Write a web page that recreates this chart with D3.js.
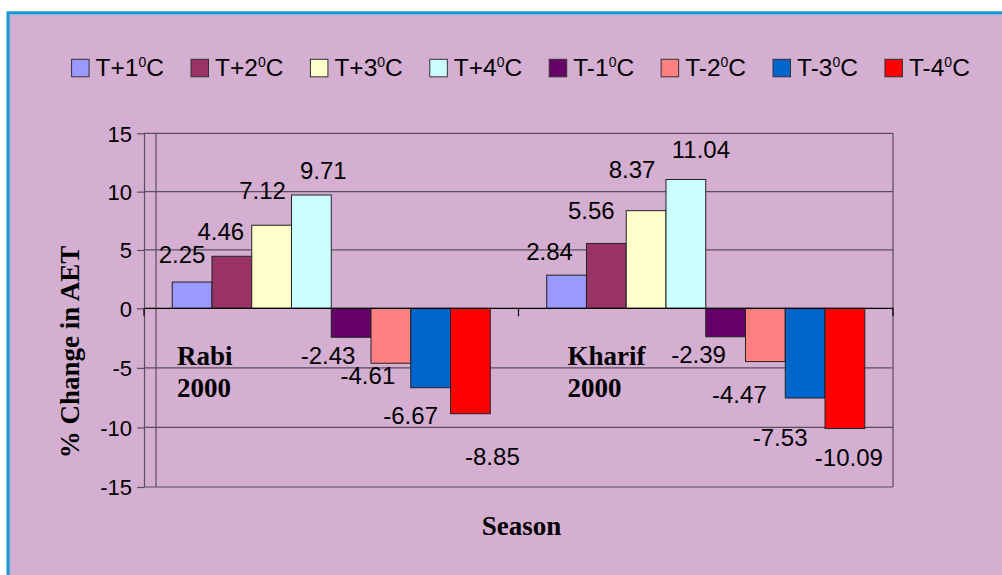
<!DOCTYPE html>
<html>
<head>
<meta charset="utf-8">
<script src="https://cdn.jsdelivr.net/npm/d3@7"></script>
<style>
  html, body { margin: 0; padding: 0; background: #ffffff; }
  svg { display: block; }
</style>
</head>
<body>
<svg id="chart" width="1002" height="575"></svg>
<script>
// Seasons on the category axis
const categories = ["Rabi", "Kharif"];
// Temperature scenarios (legend order)
const seriesNames = ["T+1", "T+2", "T+3", "T+4", "T-1", "T-2", "T-3", "T-4"];
const seriesColors = ["#9999FF", "#993366", "#FFFFCC", "#CCFFFF", "#660066", "#FF8080", "#0066CC", "#FF0000"];
// % change in AET per scenario
const rabiValues = [2.25, 4.46, 7.12, 9.71, -2.43, -4.61, -6.67, -8.85];
const kharifValues = [2.84, 5.56, 8.37, 11.04, -2.39, -4.47, -7.53, -10.09];
const yTicks = [-15, -10, -5, 0, 5, 10, 15];
const seasonNotes = [["Rabi", "2000"], ["Kharif", "2000"]];

const valuesBySeason = [rabiValues, kharifValues];

// hand-placed data label nudges (dx, dy from the bar end)
const labelNudge = [
  [[-10, -28], [-11, -25], [-9, -35], [12, -25], [-23, 18], [-23, 12], [-20, 28], [22, 43]],
  [[-17, -24], [-15, -33], [-14, -41], [15, -30], [-27, 18], [-26, 33], [-25, 39], [4, 29]]
];
const noteOffset = [33, 49];

const svg = d3.select("#chart");
const W = 1002, H = 575;

// chart frame
svg.append("rect")
  .attr("x", 8).attr("y", 12.8).attr("width", W + 20).attr("height", H + 20)
  .attr("fill", "#D5AFD1").attr("stroke", "#1196D8").attr("stroke-width", 3);
svg.append("line")
  .attr("x1", 9.5).attr("x2", W).attr("y1", 14.8).attr("y2", 14.8)
  .attr("stroke", "#93B9DD").attr("stroke-width", 1);
svg.append("line")
  .attr("x1", 10.2).attr("x2", 10.2).attr("y1", 14.3).attr("y2", H)
  .attr("stroke", "#93B9DD").attr("stroke-width", 1);

const plotL = 144, plotR = 893, plotT = 133.3, plotB = 487;

const x0 = d3.scaleBand().domain(categories).range([plotL, plotR]).padding(0);
const x1 = d3.scaleBand().domain(d3.range(seriesNames.length))
  .range([0, x0.bandwidth()]).paddingInner(0).paddingOuter(0.71);
const y = d3.scaleLinear().domain([-15, 0, 15]).range([plotB, 308.3, plotT]);

const gridColor = "#5A4E5C";

// horizontal gridlines
svg.append("g").selectAll("line")
  .data(yTicks.filter(t => t !== 0))
  .join("line")
  .attr("x1", plotL).attr("x2", plotR)
  .attr("y1", d => y(d)).attr("y2", d => y(d))
  .attr("stroke", gridColor).attr("stroke-width", 1.2);

// plot area left and right edges
svg.append("line")
  .attr("x1", 156).attr("x2", 156).attr("y1", plotT).attr("y2", plotB)
  .attr("stroke", gridColor).attr("stroke-width", 1.2);
svg.append("line")
  .attr("x1", plotR).attr("x2", plotR).attr("y1", plotT).attr("y2", plotB)
  .attr("stroke", gridColor).attr("stroke-width", 1.2);

// y axis
const yAxis = svg.append("g")
  .attr("transform", `translate(${plotL},0)`)
  .call(d3.axisLeft(y).tickValues(yTicks).tickSize(7).tickPadding(5).tickSizeOuter(0));
yAxis.select(".domain").attr("stroke", gridColor).attr("stroke-width", 1.2);
yAxis.selectAll(".tick line").attr("stroke", gridColor).attr("stroke-width", 1.2);
yAxis.selectAll(".tick text")
  .attr("font-family", "Liberation Sans, Arial, sans-serif")
  .attr("font-size", 22).attr("fill", "#000").attr("dy", "0.36em")
  .text(d => d < 0 ? "-" + Math.abs(d) : d);

// bars
const groups = svg.append("g").selectAll("g")
  .data(categories)
  .join("g")
  .attr("transform", d => `translate(${x0(d)},0)`);

groups.selectAll("rect")
  .data((d, ci) => valuesBySeason[ci].map((v, si) => ({ v, si, ci })))
  .join("rect")
  .attr("x", d => x1(d.si))
  .attr("width", x1.bandwidth())
  .attr("y", d => y(Math.max(0, d.v)))
  .attr("height", d => Math.abs(y(d.v) - y(0)))
  .attr("fill", d => seriesColors[d.si])
  .attr("stroke", "#222").attr("stroke-width", 1);

// category axis line with tick marks
svg.append("line")
  .attr("x1", plotL).attr("x2", plotR).attr("y1", y(0)).attr("y2", y(0))
  .attr("stroke", "#000").attr("stroke-width", 1.2);
svg.append("g").selectAll("line")
  .data([plotL, x0("Kharif"), plotR])
  .join("line")
  .attr("x1", d => d).attr("x2", d => d)
  .attr("y1", y(0)).attr("y2", y(0) + 8)
  .attr("stroke", "#000").attr("stroke-width", 1.2);

// data labels
groups.selectAll("text.val")
  .data((d, ci) => valuesBySeason[ci].map((v, si) => ({ v, si, ci })))
  .join("text")
  .attr("class", "val")
  .attr("x", d => x1(d.si) + x1.bandwidth() / 2 + labelNudge[d.ci][d.si][0])
  .attr("y", d => y(d.v) + labelNudge[d.ci][d.si][1])
  .attr("dy", "0.36em")
  .attr("text-anchor", "middle")
  .attr("font-family", "Liberation Sans, Arial, sans-serif")
  .attr("font-size", 24)
  .attr("fill", "#000")
  .text(d => d.v.toFixed(2));

// season notes inside the plot
groups.each(function (d, ci) {
  const t = d3.select(this).append("text")
    .attr("font-family", "Liberation Serif, Times New Roman, serif")
    .attr("font-weight", "bold").attr("font-size", 27).attr("fill", "#000");
  seasonNotes[ci].forEach((line, li) => {
    t.append("tspan").attr("x", noteOffset[ci]).attr("y", 365 + li * 31.7).text(line);
  });
});

// axis titles
svg.append("text")
  .attr("transform", `translate(79,352) rotate(-90)`)
  .attr("text-anchor", "middle")
  .attr("font-family", "Liberation Serif, Times New Roman, serif")
  .attr("font-weight", "bold").attr("font-size", 27).attr("fill", "#000")
  .text("% Change in AET");
svg.append("text")
  .attr("x", (plotL + plotR) / 2 + 3).attr("y", 535)
  .attr("text-anchor", "middle")
  .attr("font-family", "Liberation Serif, Times New Roman, serif")
  .attr("font-weight", "bold").attr("font-size", 27).attr("fill", "#000")
  .text("Season");

// legend
const legend = svg.append("g");
let lx = 71.6;
seriesNames.forEach((name, i) => {
  legend.append("rect")
    .attr("x", lx).attr("y", 59.3).attr("width", 17.5).attr("height", 17.5)
    .attr("fill", seriesColors[i]).attr("stroke", "#333").attr("stroke-width", 1);
  const t = legend.append("text")
    .attr("x", lx + 24).attr("y", 76)
    .attr("font-family", "Liberation Sans, Arial, sans-serif")
    .attr("font-size", 24.5).attr("fill", "#000");
  t.append("tspan").text(name);
  t.append("tspan").attr("font-size", 14).attr("dy", -9.5).text("0");
  t.append("tspan").attr("dy", 9.5).text("C");
  lx = lx + 24 + t.node().getComputedTextLength() + 27;
});
</script>
</body>
</html>
